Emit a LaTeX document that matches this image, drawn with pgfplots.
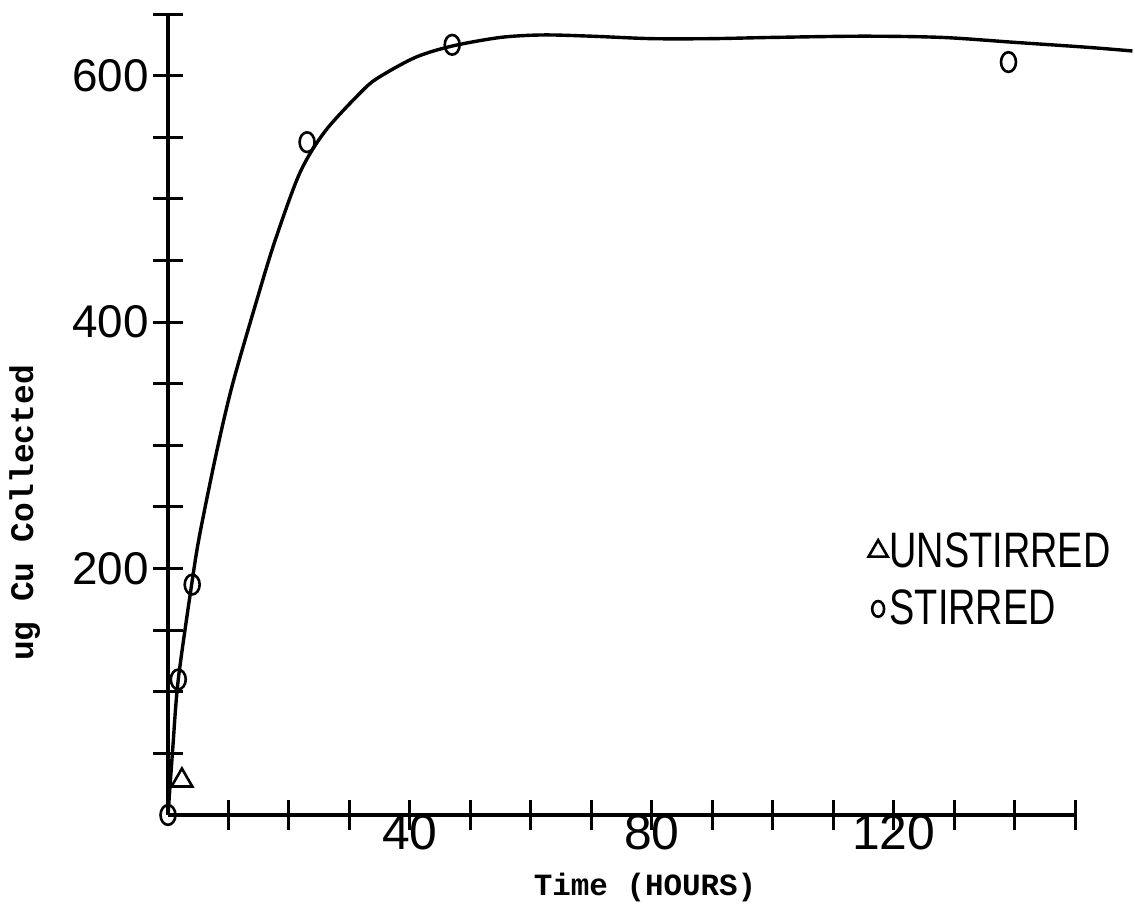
\documentclass[border=0pt]{standalone}
\usepackage{fontspec}
\setmainfont{Liberation Sans}
\newfontfamily\cour{Liberation Mono}
\usepackage{pgfplots}
\pgfplotsset{compat=1.18}
\pgfplotstableread{
x y
0 0
0.8 55
1.7 110
4 190
5.3 229
8.1 296
10.7 350
14.7 418
17.7 466
21.8 521
26 555
32.2 588
35 599
41 615
47 624
55 631
62 633
70 632
80 630
90 630
100 631
115 632
128 631
140 627
152 623
159.5 620
}\curve
\begin{document}
\begin{tikzpicture}
\useasboundingbox (-84bp,-45.5bp) rectangle (483.5bp,407.5bp);
\begin{axis}[
  scale only axis, width=453.5bp, height=400.5bp,
  xmin=0, xmax=150, ymin=0, ymax=650,
  axis lines=left, axis line style={-, line width=2bp},
  clip=false,
  xtick={10,20,...,150}, xticklabels={,,,40,,,,80,,,,120,,,},
  ytick={50,100,...,650}, yticklabels={,,,200,,,,400,,,,600,},
  tick align=center, major tick length=15bp,
  tick style={line width=1.5bp, black},
  /pgf/number format/assume math mode=true,
  xticklabel style={font=\fontsize{25}{25}\selectfont, yshift=11bp},
  yticklabel style={font=\fontsize{23}{23}\selectfont, xshift=1.5bp},
  xlabel={\cour\bfseries Time (HOURS)},
  ylabel={\cour\bfseries ug Cu Collected},
  x label style={font=\fontsize{15.5}{15.5}\selectfont, at={(axis description cs:0.526,-0.09)}, anchor=center},
  y label style={font=\fontsize{16.5}{16.5}\selectfont, at={(axis description cs:-0.158,0.377)}, anchor=center, rotate=0},
  legend style={at={(axis description cs:0.772,0.356)}, anchor=north west, draw=none, fill=none,
    font=\fontsize{25}{25}\selectfont, row sep=8bp, inner sep=0pt,
    nodes={inner sep=1bp}},
  legend cell align=left,
]
\addplot[black, line width=1.7bp, smooth, tension=0.5, forget plot] table {\curve};
\addplot[only marks, mark=triangle, mark size=6bp, mark options={line width=1.3bp, black},
  legend image code/.code={\draw[mark=triangle, mark size=5.5bp, line width=1.2bp, black] plot coordinates {(0bp,0bp)};}]
  coordinates {(2.3,28)};
\addlegendentry{\scalebox{0.76}[1]{UNSTIRRED}}
\addplot[only marks, mark=o, mark size=4.4bp, mark options={line width=1.3bp, black, xscale=0.85, yscale=1.12},
  legend image code/.code={\draw[mark=o, mark size=3.5bp, line width=1.2bp, black] plot coordinates {(0bp,0bp)};}]
  coordinates {(0,0) (1.7,110) (4,187) (23,546) (47,625) (139,611)};
\addlegendentry{\scalebox{0.76}[1]{STIRRED}}
\end{axis}
\end{tikzpicture}
\end{document}
